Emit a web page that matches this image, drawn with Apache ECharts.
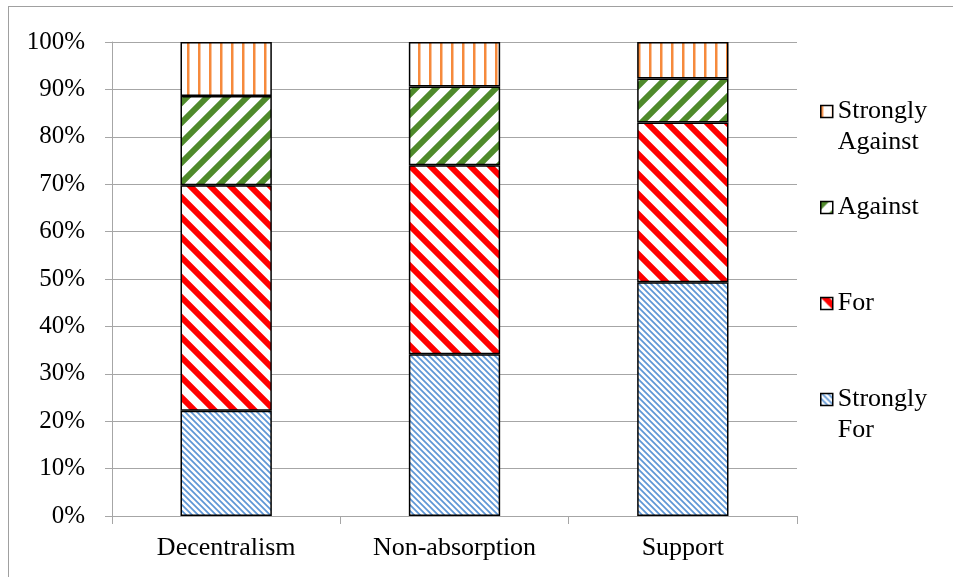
<!DOCTYPE html>
<html>
<head>
<meta charset="utf-8">
<script src="https://cdn.jsdelivr.net/npm/echarts@6/dist/echarts.min.js"></script>
<style>
  html, body { margin: 0; padding: 0; background: #fff; overflow: hidden; }
  #frame { position: absolute; left: 8px; top: 6px; width: 1000px; height: 1000px; border: 1px solid #a0a0a0; }
  #main { position: absolute; left: 0; top: 0; width: 953px; height: 577px; }
</style>
</head>
<body>
<div id="frame"></div>
<div id="main"></div>
<script>
var categories = ["Decentralism", "Non-absorption", "Support"];
var seriesNames = ["Strongly For", "For", "Against", "Strongly Against"];
var stronglyFor = [22.2, 34.1, 49.3];
var forVals = [47.6, 39.9, 33.7];
var against = [18.8, 16.6, 9.3];
var stronglyAgainst = [11.4, 9.4, 7.7];
var yTicks = [0, 10, 20, 30, 40, 50, 60, 70, 80, 90, 100];

// small canvas tiles used as pattern fills
function makeTile(w, h, color, test) {
  var c = document.createElement("canvas");
  c.width = w;
  c.height = h;
  var ctx = c.getContext("2d");
  ctx.fillStyle = "#fff";
  ctx.fillRect(0, 0, w, h);
  ctx.fillStyle = color;
  var n = 4;
  for (var x = 0; x < w; x++) {
    for (var y = 0; y < h; y++) {
      var hit = 0;
      for (var i = 0; i < n; i++) {
        for (var j = 0; j < n; j++) {
          if (test(x + (i + 0.5) / n, y + (j + 0.5) / n)) hit++;
        }
      }
      if (hit > 0) {
        ctx.globalAlpha = hit / (n * n);
        ctx.fillRect(x, y, 1, 1);
      }
    }
  }
  ctx.globalAlpha = 1;
  return c;
}
function mod(a, m) { return ((a % m) + m) % m; }

var blueTile = makeTile(6, 6, "#5f97d6", function (x, y) { return mod(x - y, 6) < 2.4; });
var redTile = makeTile(20, 20, "#ff0000", function (x, y) { return mod(x - y, 20) < 8.5; });
var greenTile = makeTile(20, 20, "#4f8a2b", function (x, y) { return mod(x + y, 20) < 8.5; });
var orangeTile = makeTile(11, 4, "#f68a3c", function (x, y) { return mod(x, 11) < 2.6; });

var fills = [blueTile, redTile, greenTile, orangeTile];
var values = [stronglyFor, forVals, against, stronglyAgainst];

var series = [];
for (let i = 0; i < seriesNames.length; i++) {
  series.push({
    name: seriesNames[i],
    type: "bar",
    stack: "total",
    barWidth: "40%",
    data: values[i],
    itemStyle: {
      color: { image: fills[i], repeat: "repeat" },
      borderColor: "#000",
      borderWidth: 1.5
    }
  });
}

var lh = 31;
var font = "'Liberation Serif', 'Times New Roman', serif";

var myChart = echarts.init(document.getElementById("main"));
var option = {
  animation: false,
  grid: {
    left: 112,
    right: 156,
    top: 42,
    bottom: 61,
    containLabel: false
  },
  legend: {
    orient: "vertical",
    left: 820,
    top: 65,
    padding: 0,
    itemGap: 3,
    itemWidth: 12,
    itemHeight: 12,
    icon: "rect",
    selectedMode: false,
    itemStyle: { borderColor: "#000", borderWidth: 1.5 },
    // every entry is three lines high, the icon sits on the middle one
    formatter: function (name) {
      var parts = name.split(" ");
      if (parts.length > 1) return " \n" + parts[0] + "\n" + parts.slice(1).join(" ");
      return " \n" + name + "\n ";
    },
    textStyle: {
      fontFamily: font,
      fontSize: 26,
      color: "#000",
      lineHeight: lh
    },
    data: ["Strongly Against", "Against", "For", "Strongly For"]
  },
  xAxis: {
    type: "category",
    data: categories,
    axisLine: { lineStyle: { color: "#a6a6a6", width: 1 } },
    axisTick: { show: true, length: 8, lineStyle: { color: "#a6a6a6" } },
    axisLabel: { color: "#000", fontFamily: font, fontSize: 26, margin: 19 }
  },
  yAxis: {
    type: "value",
    min: yTicks[0],
    max: yTicks[yTicks.length - 1],
    interval: yTicks[1] - yTicks[0],
    axisLine: { show: true, lineStyle: { color: "#a6a6a6", width: 1 } },
    axisTick: { show: true, length: 7, lineStyle: { color: "#a6a6a6" } },
    splitLine: { show: true, lineStyle: { color: "#a6a6a6", width: 1 } },
    axisLabel: {
      color: "#000",
      fontFamily: font,
      fontSize: 25,
      margin: 27,
      formatter: "{value}%"
    }
  },
  series: series
};
myChart.setOption(option, true);
</script>
</body>
</html>
